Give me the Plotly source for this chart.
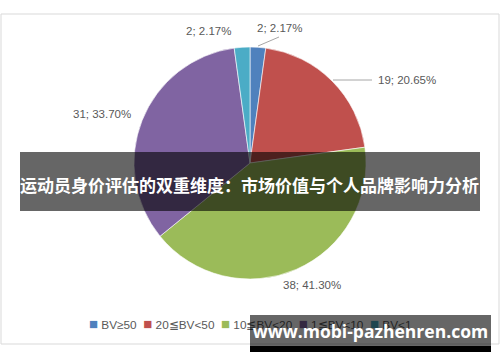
import plotly.graph_objects as go

# ---- data ----
categories = ["BV≥50", "20≦BV<50", "10≦BV<20", "1≦BV<10", "BV<1"]
values = [2, 19, 38, 31, 2]
colors = ["#4F81BD", "#C0504D", "#9BBB59", "#8064A2", "#4BACC6"]
title_text = "运动员身价评估的双重维度：市场价值与个人品牌影响力分析"
watermark = "www.mobi-pazhenren.com"

W, H = 500, 362
total = sum(values)
label_texts = [f"{v}; {v / total * 100:.2f}%" for v in values]

# label placement (pixel positions, Excel-style outside labels)
label_pos = [(279, 28), (407, 80), (312, 285), (102, 114), (208, 31)]
leaders = [((258, 46), (279, 37)), ((333, 80), (372, 80))]

def px(x):
    return x / W

def py(y):
    return 1 - y / H

fig = go.Figure()
cx, cy, r = 250, 163, 116
fig.add_trace(go.Pie(
    labels=categories, values=values, sort=False, direction="clockwise",
    rotation=0, marker=dict(colors=colors, line=dict(color="white", width=0.6)),
    textinfo="none", hoverinfo="label+value+percent", showlegend=False,
    domain=dict(x=[px(cx - r), px(cx + r)], y=[py(cy + r), py(cy - r)]),
))

shapes = []
# chart frame
shapes.append(dict(type="rect", xref="paper", yref="paper", x0=px(1), x1=px(499),
                   y0=py(344), y1=py(14), line=dict(color="#D9D9D9", width=1),
                   layer="below"))
for (a, b) in leaders:
    shapes.append(dict(type="line", xref="paper", yref="paper", x0=px(a[0]), y0=py(a[1]),
                       x1=px(b[0]), y1=py(b[1]), line=dict(color="#A6A6A6", width=1)))
# banner
shapes.append(dict(type="rect", xref="paper", yref="paper", x0=px(20), x1=px(480),
                   y0=py(211), y1=py(152), fillcolor="rgba(0,0,0,0.6)", line=dict(width=0),
                   layer="above"))
# watermark black bar
shapes.append(dict(type="rect", xref="paper", yref="paper", x0=px(250), x1=px(491),
                   y0=py(352), y1=py(346), fillcolor="black", line=dict(width=0),
                   layer="above"))

annotations = []
for t, (x, y) in zip(label_texts, label_pos):
    annotations.append(dict(x=px(x), y=py(y), xref="paper", yref="paper", text=t,
                            showarrow=False, xanchor="center", yanchor="middle",
                            font=dict(family="Liberation Sans", size=11.5, color="#595959")))

legend_text = "  ".join(
    f"<span style='color:{c};font-size:15px'>■</span> {lab}" for lab, c in zip(categories, colors)
)
annotations.append(dict(x=px(250), y=py(323), xref="paper", yref="paper", text=legend_text,
                        showarrow=False, xanchor="center", yanchor="middle",
                        font=dict(family="Liberation Sans", size=11.8, color="#595959")))

annotations.append(dict(x=px(249), y=py(184), xref="paper", yref="paper",
                        text=f"<b>{title_text}</b>", showarrow=False,
                        xanchor="center", yanchor="middle",
                        font=dict(family="Noto Sans CJK SC", size=17.0, color="white")))

annotations.append(dict(x=px(250), y=py(315), xref="paper", yref="paper",
                        text=f"<b>{watermark}</b>", showarrow=False,
                        xanchor="left", yanchor="top", width=241, height=31,
                        bgcolor="rgba(0,0,0,0.6)", borderpad=0, borderwidth=0,
                        align="center", valign="middle",
                        font=dict(family="Open Sans", size=17.5, color="white")))

fig.update_layout(
    width=W, height=H, margin=dict(l=0, r=0, t=0, b=0),
    paper_bgcolor="white", plot_bgcolor="white",
    shapes=shapes, annotations=annotations,
)

fig.write_html("out.html")
